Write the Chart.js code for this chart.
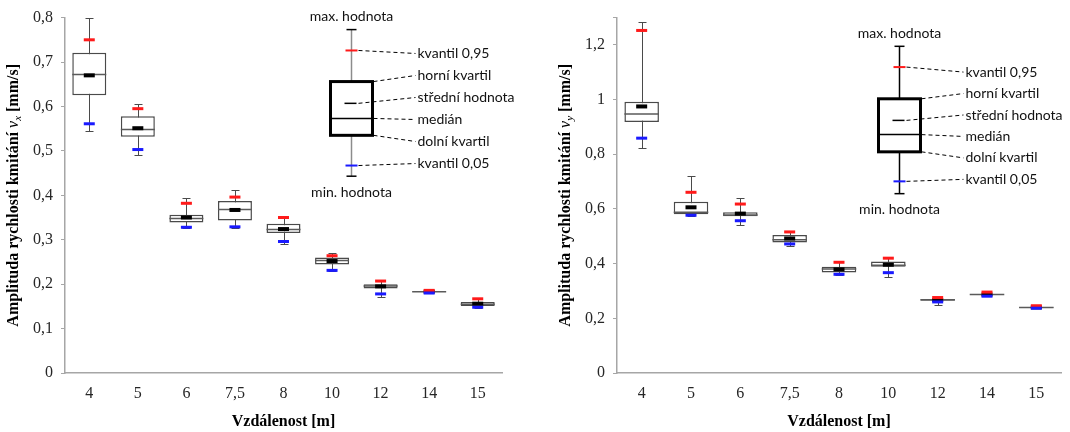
<!DOCTYPE html>
<html>
<head>
<meta charset="utf-8">
<script src="https://cdn.jsdelivr.net/npm/chart.js@4/dist/chart.umd.min.js"></script>
<style>
   html, body { margin: 0; padding: 0; background: #fff; }
   #wrap { position: relative; width: 1070px; height: 432px; }
   .panel { position: absolute; top: 0; width: 535px; height: 432px; }
</style>
</head>
<body>
<div id="wrap">
   <div class="panel" style="left:0"><canvas id="grafVx"></canvas></div>
   <div class="panel" style="left:535px"><canvas id="grafVy"></canvas></div>
</div>
<script>
const vzdalenosti = ['4', '5', '6', '7,5', '8', '10', '12', '14', '15'];

// amplituda v_x [mm/s]
const vxMax    = [0.799, 0.605, 0.394, 0.412, 0.352, 0.271, 0.209, 0.187, 0.169];
const vxQ95    = [0.750, 0.595, 0.382, 0.396, 0.350, 0.264, 0.207, 0.186, 0.167];
const vxQ3     = [0.721, 0.578, 0.356, 0.387, 0.336, 0.260, 0.200, 0.184, 0.160];
const vxMean   = [0.670, 0.551, 0.350, 0.367, 0.324, 0.252, 0.195, 0.183, 0.156];
const vxMedian = [0.672, 0.548, 0.348, 0.368, 0.323, 0.253, 0.196, 0.183, 0.155];
const vxQ1     = [0.625, 0.532, 0.339, 0.343, 0.315, 0.244, 0.190, 0.183, 0.151];
const vxQ05    = [0.561, 0.503, 0.328, 0.329, 0.296, 0.231, 0.178, 0.180, 0.148];
const vxMin    = [0.544, 0.490, 0.327, 0.326, 0.291, 0.229, 0.171, 0.179, 0.146];

// amplituda v_y [mm/s]
const vyMax    = [1.285, 0.721, 0.639, 0.518, 0.408, 0.421, 0.278, 0.297, 0.247];
const vyQ95    = [1.253, 0.661, 0.618, 0.516, 0.405, 0.420, 0.276, 0.296, 0.246];
const vyQ3     = [0.992, 0.626, 0.588, 0.505, 0.389, 0.408, 0.270, 0.288, 0.241];
const vyMean   = [0.975, 0.606, 0.583, 0.492, 0.379, 0.396, 0.267, 0.287, 0.240];
const vyMedian = [0.947, 0.588, 0.578, 0.487, 0.380, 0.394, 0.268, 0.287, 0.240];
const vyQ1     = [0.918, 0.581, 0.573, 0.477, 0.368, 0.389, 0.264, 0.286, 0.239];
const vyQ05    = [0.859, 0.577, 0.557, 0.472, 0.361, 0.367, 0.260, 0.281, 0.237];
const vyMin    = [0.823, 0.575, 0.543, 0.465, 0.358, 0.350, 0.250, 0.280, 0.236];

// vysvetlivky: max, q95, Q3, prumer, median, Q1, q05, min
const legendaPopisky = ['max. hodnota', 'kvantil 0,95', 'horní kvartil', 'střední hodnota', 'medián', 'dolní kvartil', 'kvantil 0,05', 'min. hodnota'];
const vxLegendaVzor = [0.773, 0.726, 0.656, 0.607, 0.573, 0.535, 0.467, 0.443];
const vyLegendaVzor = [1.195, 1.119, 1.003, 0.924, 0.872, 0.809, 0.701, 0.656];

const serif = '"Liberation Serif", "Times New Roman", serif';
const sans = 'Lato, "Open Sans", sans-serif';
const barvaOsy = '#a6a6a6';
const barvaKrabice = '#4a4a4a';

function formatCisla(value) {
   if (Math.abs(value - Math.round(value)) < 1e-9) return String(Math.round(value));
   return value.toFixed(1).replace('.', ',');
}

function carka(ctx, x1, y1, x2, y2) {
   ctx.beginPath();
   ctx.moveTo(x1, y1);
   ctx.lineTo(x2, y2);
   ctx.stroke();
}

const boxPlotPlugin = {
   id: 'boxPlot',
   beforeDatasetsDraw(chart, args, opts) {
      // fousy a krajni hodnoty
      const {ctx, scales: {x, y}} = chart;
      const s = opts.stats;
      ctx.save();
      ctx.strokeStyle = barvaKrabice;
      ctx.lineWidth = 1;
      s.max.forEach((v, i) => {
         const px = Math.round(x.getPixelForValue(i)) + 0.5;
         const yTop = Math.round(y.getPixelForValue(v)) + 0.5;
         const yBot = Math.round(y.getPixelForValue(s.min[i])) + 0.5;
         carka(ctx, px, yTop, px, yBot);
         carka(ctx, px - 4, yTop, px + 4, yTop);
         carka(ctx, px - 4, yBot, px + 4, yBot);
      });
      ctx.restore();
   },
   afterDatasetsDraw(chart, args, opts) {
      const {ctx, scales: {x, y}} = chart;
      const s = opts.stats;
      const meta = chart.getDatasetMeta(0);
      ctx.save();
      s.median.forEach((v, i) => {
         const px = x.getPixelForValue(i);
         const half = meta.data[i].width / 2;
         ctx.strokeStyle = '#5a5a5a';
         ctx.lineWidth = 1.5;
         const ym = y.getPixelForValue(v);
         carka(ctx, px - half, ym, px + half, ym);
         // stredni hodnota
         ctx.fillStyle = '#000';
         ctx.fillRect(px - 5.5, y.getPixelForValue(s.mean[i]) - 2, 11, 4);
         // kvantily
         ctx.fillStyle = '#ff1a1a';
         ctx.fillRect(px - 5.5, y.getPixelForValue(s.q95[i]) - 1.5, 11, 3);
         ctx.fillStyle = '#1a1aff';
         ctx.fillRect(px - 5.5, y.getPixelForValue(s.q05[i]) - 1.5, 11, 3);
      });
      ctx.restore();
   },
   afterDraw(chart, args, opts) {
      const {ctx, chartArea, scales: {y}} = chart;
      const L = opts.legenda;
      const v = L.vzor.map(val => y.getPixelForValue(val));
      const wx = Math.round(chartArea.left + L.poloha * (chartArea.right - chartArea.left)) + 0.5;
      const bl = wx - 21, br = wx + 21;
      ctx.save();

      // vzorova krabice
      ctx.strokeStyle = L.barvaFousu;
      ctx.lineWidth = 1.5;
      carka(ctx, wx, v[0], wx, v[2]);
      carka(ctx, wx, v[5], wx, v[7]);
      ctx.strokeStyle = '#000';
      ctx.lineWidth = 1.5;
      carka(ctx, wx - 5, v[0], wx + 5, v[0]);
      carka(ctx, wx - 5, v[7], wx + 5, v[7]);
      ctx.lineWidth = 3;
      ctx.strokeRect(bl, v[2], br - bl, v[5] - v[2]);
      ctx.lineWidth = 1.5;
      carka(ctx, bl, v[4], br, v[4]);
      carka(ctx, wx - 7, v[3], wx + 5, v[3]);
      ctx.fillStyle = '#ff1a1a';
      ctx.fillRect(wx - 6, v[1] - 1, 12, 2);
      ctx.fillStyle = '#1a1aff';
      ctx.fillRect(wx - 6, v[6] - 1, 12, 2);

      // popisky
      const tx = wx + 66;
      const yFirst = v[1] + L.posun[0];
      const yLast = v[6] + L.posun[1];
      const krok = (yLast - yFirst) / 5;
      const zacatky = [[wx + 6, v[1]], [br, v[2]], [wx + 6, v[3]], [br, v[4]], [br, v[5]], [wx + 6, v[6]]];
      ctx.font = '14px ' + sans;
      ctx.fillStyle = '#111';
      ctx.textBaseline = 'middle';
      ctx.textAlign = 'left';
      ctx.strokeStyle = '#000';
      ctx.lineWidth = 1;
      ctx.setLineDash([4, 3]);
      for (let i = 0; i < 6; i++) {
         const ty = yFirst + i * krok;
         carka(ctx, zacatky[i][0] + 1, zacatky[i][1], tx - 2, ty);
         ctx.fillText(legendaPopisky[i + 1], tx, ty);
      }
      ctx.setLineDash([]);
      ctx.textAlign = 'center';
      ctx.fillText(legendaPopisky[0], wx, v[0] - 13);
      ctx.fillText(legendaPopisky[7], wx, v[7] + 16);

      // nazvy os
      ctx.fillStyle = '#000';
      ctx.font = 'bold 16px ' + serif;
      ctx.textBaseline = 'middle';
      ctx.fillText('Vzdálenost [m]', (chartArea.left + chartArea.right) / 2, 422);

      const casti = [
         {t: 'Amplituda rychlosti kmitání ', f: 'bold 16px ' + serif, dy: 0},
         {t: 'v', f: 'italic 16px ' + serif, dy: 0},
         {t: opts.index, f: 'italic 11px ' + serif, dy: 4},
         {t: ' [mm/s]', f: 'bold 16px ' + serif, dy: 0}
      ];
      let sirka = 0;
      casti.forEach(c => { ctx.font = c.f; c.w = ctx.measureText(c.t).width; sirka += c.w; });
      ctx.translate(chartArea.left - 51, (chartArea.top + chartArea.bottom) / 2);
      ctx.rotate(-Math.PI / 2);
      ctx.textAlign = 'left';
      let px = -sirka / 2;
      casti.forEach(c => {
         ctx.font = c.f;
         ctx.fillText(c.t, px, c.dy);
         px += c.w;
      });
      ctx.restore();
   }
};

function createGrafBox(element, stats, osa, legenda, rozvrh) {
   return new Chart(element, {
      type: 'bar',
      data: {
         labels: vzdalenosti,
         datasets: [{
            label: 'kvartily',
            data: stats.q1.map((q, i) => [q, stats.q3[i]]),
            backgroundColor: '#ffffff',
            borderColor: barvaKrabice,
            borderWidth: 1.5,
            borderSkipped: false,
            barPercentage: 0.7,
            categoryPercentage: 1
         }]
      },
      options: {
         responsive: true,
         maintainAspectRatio: false,
         animation: false,
         layout: {
            padding: {top: rozvrh.top, right: rozvrh.right, left: 0, bottom: 0}
         },
         plugins: {
            legend: {display: false},
            tooltip: {enabled: false},
            boxPlot: {stats: stats, legenda: legenda, index: osa.index}
         },
         scales: {
            x: {
               grid: {display: true, drawOnChartArea: false, drawTicks: false},
               border: {color: barvaOsy, width: 1.5},
               ticks: {
                  font: {family: serif, size: 16},
                  color: '#262626',
                  padding: 11,
                  maxRotation: 0
               },
               afterFit: function (scale) { scale.height = 59; }
            },
            y: {
               min: 0,
               max: osa.max,
               grid: {display: true, drawOnChartArea: false, drawTicks: true, tickLength: 4, color: barvaOsy},
               border: {color: barvaOsy, width: 1.5},
               ticks: {
                  stepSize: osa.krok,
                  font: {family: serif, size: 16},
                  color: '#262626',
                  padding: 8,
                  callback: function (value) {
                     if (value > osa.posledniPopisek + 1e-9) return '';
                     return formatCisla(value);
                  }
               },
               afterFit: function (scale) { scale.width = rozvrh.left; }
            }
         }
      },
      plugins: [boxPlotPlugin]
   });
}

createGrafBox(
   document.getElementById('grafVx'),
   {max: vxMax, q95: vxQ95, q3: vxQ3, mean: vxMean, median: vxMedian, q1: vxQ1, q05: vxQ05, min: vxMin},
   {max: 0.8, krok: 0.1, posledniPopisek: 0.8, index: 'x'},
   {vzor: vxLegendaVzor, poloha: 0.654, posun: [3, -2], barvaFousu: '#8c8c8c'},
   {top: 17, right: 33, left: 65}
);

createGrafBox(
   document.getElementById('grafVy'),
   {max: vyMax, q95: vyQ95, q3: vyQ3, mean: vyMean, median: vyMedian, q1: vyQ1, q05: vyQ05, min: vyMin},
   {max: 1.3, krok: 0.2, posledniPopisek: 1.2, index: 'y'},
   {vzor: vyLegendaVzor, poloha: 0.635, posun: [5, -2], barvaFousu: '#000'},
   {top: 15, right: 9, left: 82}
);
</script>
</body>
</html>
